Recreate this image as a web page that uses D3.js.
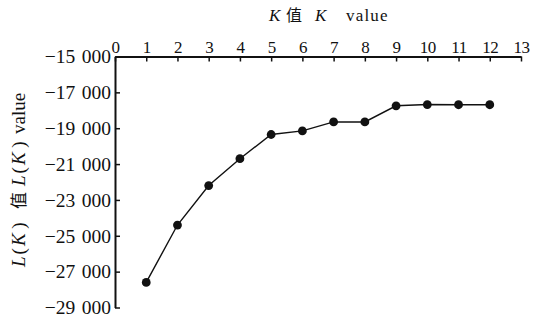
<!DOCTYPE html>
<html>
<head>
<meta charset="utf-8">
<script src="https://cdn.jsdelivr.net/npm/d3@7"></script>
<style>
  html, body { margin: 0; padding: 0; background: #fff; }
  svg text { font-family: "Liberation Serif", "Times New Roman", Times, serif; fill: #111; }
  svg text.cjk, svg tspan.cjk { font-family: "Noto Sans CJK SC", sans-serif; }
</style>
</head>
<body>
<svg id="chart" width="533" height="321"></svg>
<script>
// K values and the corresponding L(K) values
const kValues = [1, 2, 3, 4, 5, 6, 7, 8, 9, 10, 11, 12];
const lkValues = [-27600, -24400, -22200, -20700, -19350, -19150, -18650, -18650, -17750, -17680, -17690, -17690];
const xTicks = [0, 1, 2, 3, 4, 5, 6, 7, 8, 9, 10, 11, 12, 13];
const yTicks = [-15000, -17000, -19000, -21000, -23000, -25000, -27000, -29000];

const svg = d3.select("#chart");
const margin = { left: 115, top: 56.5, right: 12, bottom: 13.5 };
const W = 533, H = 321;

const x = d3.scaleLinear().domain([0, 13]).range([margin.left, W - margin.right]);
const y = d3.scaleLinear().domain([-15000, -29000]).range([margin.top, H - margin.bottom]);

// thousands separated by a narrow space, with a true minus sign
const fmt = v => (v < 0 ? "\u2212" : "") + d3.format(",")(Math.abs(v)).replace(/,/g, "\u2004");

// top x axis, ticks pointing into the plot
const xAxis = svg.append("g")
  .attr("transform", `translate(0,${margin.top})`)
  .call(d3.axisTop(x).tickValues(xTicks).tickSize(-5).tickPadding(4).tickSizeOuter(0));
xAxis.attr("font-family", null).attr("font-size", null);
xAxis.select(".domain").attr("stroke", "#111").attr("stroke-width", 2);
xAxis.selectAll(".tick line").attr("stroke", "#111").attr("stroke-width", 1.5);
xAxis.selectAll(".tick text").style("font-size", "17px").attr("letter-spacing", -0.5);

// left y axis, ticks pointing into the plot
const yAxis = svg.append("g")
  .attr("transform", `translate(${margin.left},0)`)
  .call(d3.axisLeft(y).tickValues(yTicks).tickFormat(fmt).tickSize(-5).tickPadding(4).tickSizeOuter(0));
yAxis.attr("font-family", null).attr("font-size", null);
yAxis.select(".domain").attr("stroke", "#111").attr("stroke-width", 2);
yAxis.selectAll(".tick line").attr("stroke", "#111").attr("stroke-width", 1.5);
yAxis.selectAll(".tick text").style("font-size", "19.5px");

// axis title above the top axis
const xTitle = svg.append("text")
  .attr("y", 21)
  .style("font-size", "17px");
xTitle.append("tspan").attr("x", 269).attr("font-style", "italic").text("K");
xTitle.append("tspan").attr("x", 286).attr("class", "cjk").style("font-size", "16px").text("值");
xTitle.append("tspan").attr("x", 315).attr("font-style", "italic").text("K");
xTitle.append("tspan").attr("x", 346).attr("letter-spacing", 1.2).text("value");

// rotated title beside the left axis (local x runs upward along the page)
const yTitle = svg.append("text")
  .attr("transform", "translate(25,0) rotate(-90)")
  .style("font-size", "19px");
yTitle.append("tspan").attr("x", -267).attr("font-style", "italic").attr("letter-spacing", 2).text("L");
yTitle.append("tspan").attr("letter-spacing", 2).text("(");
yTitle.append("tspan").attr("font-style", "italic").text("K");
yTitle.append("tspan").text("\u2005)");
yTitle.append("tspan").attr("x", -209).attr("class", "cjk").style("font-size", "17px").text("值");
yTitle.append("tspan").attr("x", -186).attr("font-style", "italic").attr("letter-spacing", 2).text("L");
yTitle.append("tspan").attr("letter-spacing", 2).text("(");
yTitle.append("tspan").attr("font-style", "italic").text("K");
yTitle.append("tspan").text("\u2005)");
yTitle.append("tspan").attr("x", -134).text("value");

// series line and markers
const pts = kValues.map((k, i) => [k, lkValues[i]]);
svg.append("path")
  .datum(pts)
  .attr("fill", "none")
  .attr("stroke", "#111")
  .attr("stroke-width", 1.4)
  .attr("d", d3.line().x(d => x(d[0])).y(d => y(d[1])));

svg.append("g").selectAll("circle")
  .data(pts)
  .join("circle")
  .attr("cx", d => x(d[0]))
  .attr("cy", d => y(d[1]))
  .attr("r", 4.4)
  .attr("fill", "#111");
</script>
</body>
</html>
